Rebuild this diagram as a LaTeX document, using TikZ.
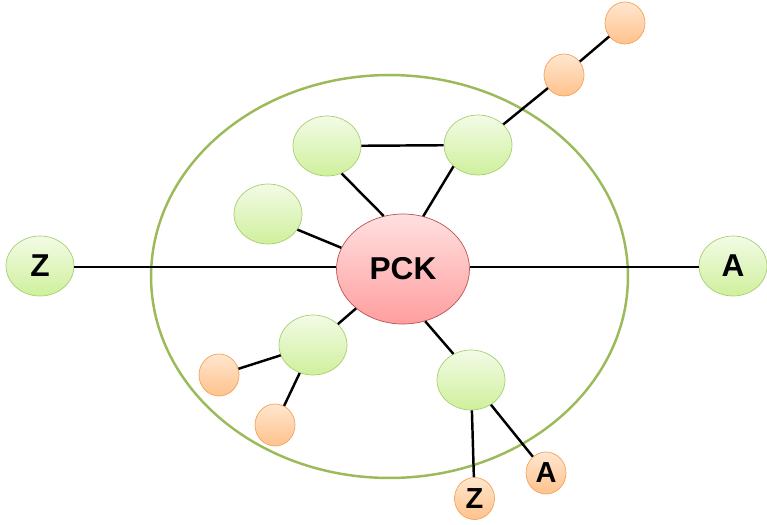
\documentclass[tikz,border=0pt]{standalone}
\usepackage{fontspec}
\setmainfont{Liberation Sans}
\usetikzlibrary{shapes.geometric}
\definecolor{leafline}{HTML}{A7CF72}
\definecolor{leaftop}{HTML}{F3FBE6}
\definecolor{leafbot}{HTML}{CFF09C}
\definecolor{tipline}{HTML}{F4A35A}
\definecolor{tiptop}{HTML}{FFE6CF}
\definecolor{tipbot}{HTML}{FFC28C}
\definecolor{hubline}{HTML}{B85450}
\definecolor{hubtop}{HTML}{FFE0E0}
\definecolor{hubbot}{HTML}{FF9E9E}
\definecolor{ringline}{HTML}{9BBA59}
\begin{document}
\begin{tikzpicture}[x=0.02cm,y=-0.02cm,
    hub/.style={ellipse,draw=hubline,top color=hubtop,bottom color=hubbot,minimum width=2.66cm,minimum height=2.2cm,inner sep=0pt,font=\fontsize{18}{21}\selectfont\bfseries},
    leaf/.style={ellipse,draw=leafline,top color=leaftop,bottom color=leafbot,minimum width=1.36cm,minimum height=1.2cm,inner sep=0pt,font=\fontsize{18}{21}\selectfont\bfseries},
    tip/.style={ellipse,draw=tipline,top color=tiptop,bottom color=tipbot,minimum width=0.8cm,minimum height=0.84cm,inner sep=0pt,font=\fontsize{16.5}{19}\selectfont\bfseries},
    link/.style={line width=1.4pt,black}]
    \useasboundingbox (0,0) rectangle (767,524);
    % ring round the core
    \draw[ringline,line width=1.4pt] (389.5,276.5) ellipse [x radius=4.77cm,y radius=4.03cm];

    \node[hub] (pck) at (403,269) {PCK};
    \node[leaf] (zl) at (40,266) {Z};
    \node[leaf] (ar) at (733,266) {A};
    \node[leaf] (g1) at (327,146) {};
    \node[leaf] (g2) at (478,145) {};
    \node[leaf] (g3) at (268,214) {};
    \node[leaf] (g4) at (313,345) {};
    \node[leaf] (g5) at (471,380) {};
    \node[tip] (o1) at (625,23) {};
    \node[tip] (o2) at (564,75) {};
    \node[tip] (o3) at (219,375) {};
    \node[tip] (o4) at (275,425) {};
    \node[tip] (oz) at (474.5,498.5) {Z};
    \node[tip] (oa) at (546,473) {A};

    \coordinate (zend) at (zl.east |- 0,267);
    \coordinate (aend) at (ar.west |- 0,267);
    \draw[link] (zend) -- (zend -| pck.west);
    \draw[link] (aend -| pck.east) -- (aend);
    \draw[link] (g1) -- (g2);
    \draw[link] (g1.-62) -- (pck.110);
    \draw[link] (g2.221) -- (pck.69);
    \draw[link] (g2) -- (o2);
    \draw[link] (o2) -- (o1);
    \draw[link] (g3.-28) -- (pck.161);
    \draw[link] (g4.40) -- (pck.220);
    \draw[link] (g4) -- (o3);
    \draw[link] (g4) -- (o4);
    \draw[link] (g5.124) -- (pck.-67);
    \draw[link] (g5) -- (oz);
    \draw[link] (g5) -- (oa);
\end{tikzpicture}
\end{document}
